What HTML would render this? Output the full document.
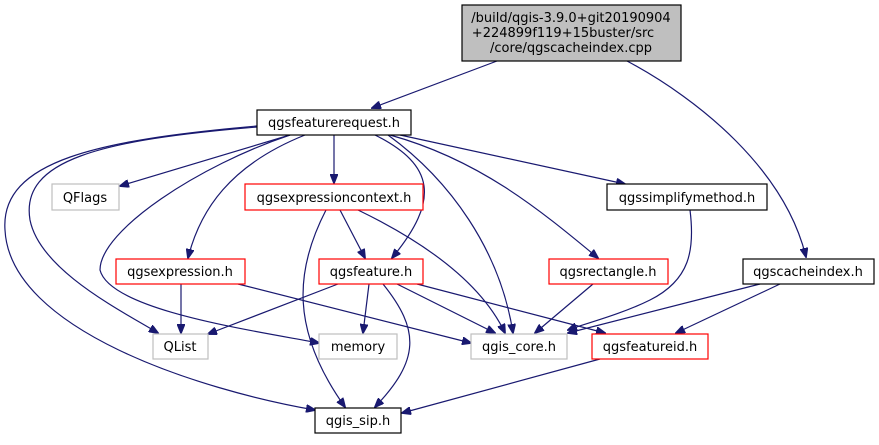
<!DOCTYPE html>
<html><head><meta charset="utf-8"><style>
body{margin:0;background:#fff;width:879px;height:440px;overflow:hidden}
svg text{font-family:"DejaVu Sans","Liberation Sans",sans-serif;font-size:13px;text-anchor:middle}
</style></head><body>
<svg width="879" height="440" viewBox="0 0 879 440" xmlns="http://www.w3.org/2000/svg">
<defs><marker id="a" markerWidth="10" markerHeight="8" refX="9" refY="4" orient="auto" markerUnits="userSpaceOnUse"><path d="M0,0 L10,4 L0,8 z" fill="#191970" stroke="#191970"/></marker></defs>
<g fill="none" stroke="#191970" stroke-width="1.2" marker-end="url(#a)">
<path d="M497,61 L372,108"/>
<path d="M627,61 C700,100 785,170 806,257"/>
<path d="M290,135 L120,186"/>
<path d="M334,135 L334,183"/>
<path d="M305,135 C230,165 200,210 188,258"/>
<path d="M257,127 C100,140 20,160 30,220 C40,270 120,310 158,333"/>
<path d="M257,126 C100,140 0,160 5,230 C10,330 200,390 315,410"/>
<path d="M290,135 C200,165 100,230 100,270 C110,310 250,330 319,343"/>
<path d="M375,135 C435,165 440,200 392,258"/>
<path d="M388,135 C450,180 500,250 513,333"/>
<path d="M390,135 C480,160 540,210 598,258"/>
<path d="M400,135 L625,184"/>
<path d="M340,210 L365,258"/>
<path d="M358,210 C420,240 480,280 505,333"/>
<path d="M326,210 C295,270 290,330 345,407"/>
<path d="M181,284 L181,333"/>
<path d="M238,284 L471,343"/>
<path d="M338,284 L208,334"/>
<path d="M369,284 L363,333"/>
<path d="M383,284 C420,330 420,360 375,407"/>
<path d="M397,284 L495,333"/>
<path d="M417,284 L605,333"/>
<path d="M593,284 L535,333"/>
<path d="M690,210 C695,250 690,280 650,300 C620,315 580,325 568,330"/>
<path d="M760,284 L568,333"/>
<path d="M780,284 L676,333"/>
<path d="M600,359 L402,413"/>
</g>
<g stroke-width="1.2">
<rect x="462" y="5" width="219" height="56" fill="#bfbfbf" stroke="#000"/>
<rect x="257" y="110" width="154" height="25" fill="#fff" stroke="#000"/>
<rect x="52" y="184" width="67" height="26" fill="#fff" stroke="#bfbfbf"/>
<rect x="245" y="184" width="178" height="26" fill="#fff" stroke="#ff0000"/>
<rect x="607" y="184" width="160" height="26" fill="#fff" stroke="#000"/>
<rect x="116" y="259" width="129" height="25" fill="#fff" stroke="#ff0000"/>
<rect x="319" y="259" width="104" height="25" fill="#fff" stroke="#ff0000"/>
<rect x="549" y="259" width="119" height="25" fill="#fff" stroke="#ff0000"/>
<rect x="743" y="259" width="131" height="25" fill="#fff" stroke="#000"/>
<rect x="153" y="334" width="55" height="25" fill="#fff" stroke="#bfbfbf"/>
<rect x="319" y="334" width="78" height="25" fill="#fff" stroke="#bfbfbf"/>
<rect x="471" y="334" width="96" height="25" fill="#fff" stroke="#bfbfbf"/>
<rect x="592" y="334" width="116" height="25" fill="#fff" stroke="#ff0000"/>
<rect x="315" y="408" width="86" height="25" fill="#fff" stroke="#000"/>
</g>
<g fill="#000">
<text x="571" y="22">/build/qgis-3.9.0+git20190904</text>
<text x="563" y="37" text-anchor="middle">+224899f119+15buster/src</text>
<text x="571" y="52">/core/qgscacheindex.cpp</text>
<text x="334" y="127">qgsfeaturerequest.h</text>
<text x="85" y="202">QFlags</text>
<text x="334" y="202">qgsexpressioncontext.h</text>
<text x="687" y="202">qgssimplifymethod.h</text>
<text x="180" y="276">qgsexpression.h</text>
<text x="371" y="276">qgsfeature.h</text>
<text x="608" y="276">qgsrectangle.h</text>
<text x="808" y="276">qgscacheindex.h</text>
<text x="180" y="351">QList</text>
<text x="358" y="351">memory</text>
<text x="519" y="351">qgis_core.h</text>
<text x="650" y="351">qgsfeatureid.h</text>
<text x="358" y="425">qgis_sip.h</text>
</g>
</svg>
</body></html>
